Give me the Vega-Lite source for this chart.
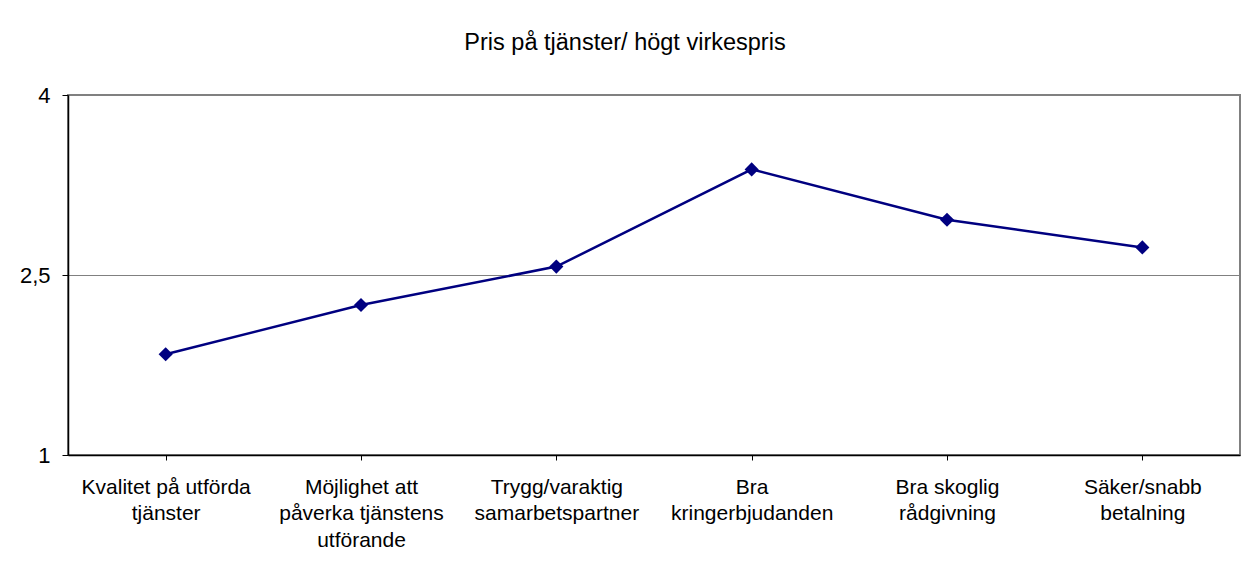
{
  "$schema": "https://vega.github.io/schema/vega-lite/v6.json",
  "width": 1172,
  "height": 360,
  "autosize": {"type": "none"},
  "padding": {"left": 68, "top": 95, "right": 10, "bottom": 118},
  "background": "white",
  "title": {
    "text": "Pris på tjänster/ högt virkespris",
    "font": "Liberation Sans",
    "fontSize": 23.5,
    "fontWeight": "normal",
    "color": "black",
    "anchor": "middle",
    "dx": -29,
    "offset": 30
  },
  "config": {
    "view": {"stroke": "#808080", "strokeWidth": 2},
    "font": "Liberation Sans"
  },
  "data": {
    "values": [
      {"kategori": "Kvalitet på utförda|tjänster", "värde": 1.84},
      {"kategori": "Möjlighet att|påverka tjänstens|utförande", "värde": 2.25},
      {"kategori": "Trygg/varaktig|samarbetspartner", "värde": 2.57},
      {"kategori": "Bra|kringerbjudanden", "värde": 3.38},
      {"kategori": "Bra skoglig|rådgivning", "värde": 2.96},
      {"kategori": "Säker/snabb|betalning", "värde": 2.73}
    ]
  },
  "encoding": {
    "x": {
      "field": "kategori",
      "type": "nominal",
      "sort": null,
      "scale": {"paddingInner": 0, "paddingOuter": 0},
      "axis": {
        "title": null,
        "labelAngle": 0,
        "labelExpr": "split(datum.value, '|')",
        "labelFont": "Liberation Sans",
        "labelFontSize": 21,
        "labelColor": "black",
        "labelLineHeight": 26.5,
        "labelPadding": 16,
        "labelBaseline": "top",
        "labelLimit": 0,
        "bandPosition": 0,
        "ticks": true,
        "tickColor": "black",
        "tickSize": 5,
        "domainColor": "black",
        "domainWidth": 1.5,
        "grid": false
      }
    },
    "y": {
      "field": "värde",
      "type": "quantitative",
      "scale": {"domain": [1, 4], "nice": false, "zero": false},
      "axis": {
        "title": null,
        "values": [1, 2.5, 4],
        "labelExpr": "replace(format(datum.value, '.1~f'), '.', ',')",
        "labelFont": "Liberation Sans",
        "labelFontSize": 22,
        "labelColor": "black",
        "labelPadding": 12,
        "tickColor": "black",
        "tickSize": 6,
        "domainColor": "black",
        "domainWidth": 1.5,
        "grid": true,
        "gridColor": "#808080",
        "gridWidth": 1
      }
    }
  },
  "layer": [
    {"mark": {"type": "line", "color": "#000080", "strokeWidth": 2.5}},
    {"mark": {"type": "point", "shape": "diamond", "filled": true, "color": "#000080", "size": 200, "opacity": 1}}
  ]
}
